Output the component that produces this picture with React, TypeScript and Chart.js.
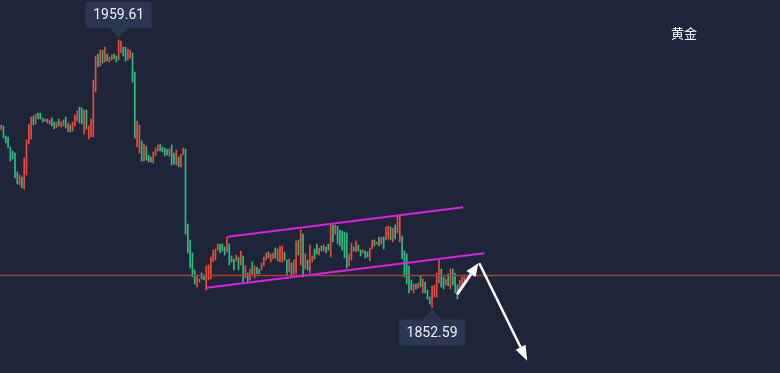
import React, { useEffect, useRef } from 'react';
import { Chart, registerables } from 'chart.js';

Chart.register(...registerables);

const BG = '#1e2538';
const UP = '#2dbd84';
const DOWN = '#f04a3c';

// candle highs / lows (price), and direction (1 = rising/green, -1 = falling/red)
const highs = [
  1925.6, 1925.2, 1921.2, 1920.8, 1916.8, 1915.2, 1914.4, 1906.8, 1905.6, 1904.8,
  1912.4, 1919.6, 1926.0, 1928.8, 1929.2, 1930.0, 1930.4, 1930.4, 1928.4, 1928.0,
  1928.0, 1927.6, 1928.4, 1926.8, 1926.8, 1928.0, 1926.8, 1927.6, 1928.8, 1926.4,
  1925.6, 1926.8, 1929.6, 1931.2, 1932.8, 1932.4, 1931.6, 1931.6, 1925.2, 1928.0,
  1943.6,
  1953.2, 1954.0, 1955.6, 1955.6, 1956.8, 1954.0, 1952.8, 1953.6, 1954.0, 1953.2,
  1959.61, 1959.2, 1956.8, 1956.8, 1956.0, 1955.6, 1954.4, 1946.8, 1927.2, 1925.6,
  1919.2, 1918.0, 1917.2, 1913.6, 1912.8, 1914.8, 1916.4, 1917.6, 1918.0, 1916.8,
  1916.4, 1916.0, 1916.0, 1917.6, 1914.4, 1915.6, 1912.8, 1914.0, 1916.4, 1916.0,
  1886.0,
  1879.6, 1874.4, 1867.6, 1865.6, 1864.0, 1866.4, 1865.6, 1869.2, 1869.6, 1872.8,
  1875.6, 1876.0, 1878.0, 1878.0, 1878.0, 1876.8, 1880.8, 1878.0, 1873.2, 1872.0,
  1873.6, 1872.8, 1875.2, 1873.2, 1869.2, 1866.4, 1868.0, 1870.8, 1869.2, 1868.8,
  1868.0, 1870.4, 1872.8, 1874.4, 1874.8, 1874.0, 1874.4, 1876.4, 1876.0, 1877.2,
  1877.2, 1874.8, 1871.6, 1872.0, 1870.4, 1871.6, 1879.2, 1879.6, 1883.6, 1882.0,
  1874.0, 1871.6, 1877.6, 1873.2, 1876.0, 1878.0, 1876.4, 1877.2, 1877.6, 1876.8,
  1878.0, 1885.6, 1885.6, 1885.6, 1885.2,
  1883.6, 1883.2, 1882.8, 1882.4, 1874.0, 1878.4, 1876.8, 1879.2, 1877.6, 1875.6,
  1875.6, 1875.2, 1874.8, 1876.4, 1879.6, 1879.6, 1878.8, 1880.8,
  1880.8, 1880.8, 1884.8, 1885.2, 1884.8, 1884.4, 1885.6, 1889.2, 1889.2, 1881.2,
  1875.2, 1874.0, 1869.2, 1863.6, 1862.0, 1862.0, 1862.4, 1865.2, 1864.0, 1862.8,
  1859.6, 1856.8, 1861.2, 1861.6, 1866.4, 1872.0, 1868.0, 1864.8, 1864.0, 1866.0,
  1868.0, 1868.0, 1866.4, 1861.6, 1863.6, 1864.8, 1865.6,
];

const lows = [
  1923.6, 1920.4, 1918.4, 1916.4, 1911.2, 1912.0, 1904.4, 1902.0, 1901.6, 1900.4,
  1900.0, 1905.6, 1918.0, 1920.0, 1925.6, 1926.0, 1928.0, 1928.0, 1926.8, 1927.2,
  1926.4, 1926.0, 1925.2, 1924.0, 1924.4, 1925.2, 1924.8, 1925.2, 1924.4, 1922.8,
  1922.8, 1923.2, 1925.2, 1927.2, 1926.4, 1926.0, 1922.0, 1924.0, 1920.0, 1920.8,
  1920.8,
  1938.8, 1948.8, 1949.2, 1950.4, 1950.8, 1951.2, 1950.8, 1951.6, 1952.0, 1950.8,
  1951.6, 1954.4, 1953.2, 1951.2, 1951.6, 1952.4, 1942.8, 1920.4, 1916.8, 1914.4,
  1911.2, 1911.2, 1911.6, 1910.8, 1910.8, 1910.4, 1913.2, 1915.2, 1915.2, 1914.8,
  1913.2, 1913.6, 1913.2, 1909.6, 1910.0, 1909.6, 1908.8, 1908.8, 1913.6, 1882.0,
  1874.4,
  1868.4, 1864.8, 1862.0, 1860.8, 1862.8, 1864.0, 1863.6, 1859.6, 1863.6, 1864.0,
  1870.8, 1871.6, 1875.6, 1874.4, 1875.2, 1873.6, 1874.8, 1869.6, 1870.8, 1867.6,
  1871.2, 1867.6, 1869.6, 1862.4, 1864.4, 1862.8, 1863.6, 1866.0, 1864.4, 1866.0,
  1866.0, 1867.6, 1869.2, 1871.6, 1872.4, 1870.8, 1872.0, 1872.4, 1871.2, 1870.8,
  1870.8, 1871.6, 1865.6, 1866.8, 1865.2, 1866.0, 1866.0, 1873.6, 1869.6, 1864.8,
  1868.0, 1867.6, 1866.4, 1870.8, 1872.0, 1874.0, 1873.6, 1875.2, 1875.2, 1874.4,
  1875.6, 1872.8, 1878.8, 1882.0, 1878.0,
  1877.2, 1875.6, 1872.4, 1868.4, 1869.2, 1871.6, 1875.2, 1874.8, 1875.2, 1873.2,
  1874.4, 1872.4, 1872.8, 1871.2, 1876.0, 1877.2, 1878.0, 1877.2,
  1878.0, 1876.0, 1879.6, 1880.0, 1879.6, 1878.8, 1880.0, 1882.4, 1878.8, 1872.0,
  1864.8, 1862.0, 1858.4, 1859.6, 1858.4, 1860.0, 1860.4, 1860.8, 1858.4, 1858.4,
  1856.0, 1854.0, 1852.59, 1856.8, 1856.8, 1862.4, 1860.8, 1860.0, 1861.6, 1861.2,
  1860.0, 1861.6, 1858.4, 1856.0, 1859.6, 1860.4, 1861.6,
];

const moves = [
  -1, 1, 1, 1, 1, 1, 1, 1, -1, 1,
  -1, -1, -1, -1, 1, -1, 1, 1, 1, 1,
  -1, -1, 1, 1, -1, 1, -1, -1, 1, -1,
  1, -1, -1, -1, 1, 1, -1, 1, -1, -1,
  -1,
  -1, 1, -1, 1, -1, 1, -1, -1, 1, 1,
  -1, -1, 1, 1, -1, -1, 1, 1, -1, -1,
  1, -1, 1, 1, 1, -1, -1, -1, 1, 1,
  1, 1, -1, 1, 1, -1, 1, -1, -1, 1,
  1,
  1, 1, 1, -1, -1, 1, 1, -1, -1, -1,
  -1, -1, -1, 1, 1, 1, -1, 1, 1, 1,
  -1, 1, -1, 1, -1, 1, -1, 1, -1, 1,
  1, -1, -1, -1, 1, -1, -1, 1, -1, -1,
  -1, 1, 1, -1, 1, -1, -1, 1, -1, 1,
  -1, 1, -1, -1, 1, 1, -1, 1, -1, 1,
  1, -1, 1, -1, 1,
  1, 1, 1, 1, -1, -1, 1, -1, 1, 1,
  -1, 1, 1, -1, -1, 1, -1, 1,
  -1, 1, -1, -1, 1, -1, 1, -1, -1, 1,
  1, 1, 1, 1, -1, 1, -1, 1, -1, 1,
  1, 1, -1, -1, -1, -1, 1, 1, -1, 1,
  -1, 1, 1, 1, -1, -1, -1,
];

// annotations (candle index, price)
const channelUpper = [{ x: 98.3, y: 1880.9 }, { x: 200.5, y: 1892.7 }];
const channelLower = [{ x: 89.2, y: 1860.5 }, { x: 209.7, y: 1874.3 }];
const referenceLevel = 1865.4;
const arrowUp = [{ x: 197.9, y: 1857.9 }, { x: 207.1, y: 1870.3 }];
const arrowDown = [{ x: 207.5, y: 1870.3 }, { x: 228.3, y: 1831.3 }];
const seriesName = '黄金';

const X_MIN = -0.5;
const X_MAX = 338;
const Y_MIN = 1826.4;
const Y_MAX = 1975.6;

function drawArrow(ctx: CanvasRenderingContext2D, x1: number, y1: number, x2: number, y2: number, w: number, headLen: number, headW: number) {
  const ang = Math.atan2(y2 - y1, x2 - x1);
  const bx = x2 - Math.cos(ang) * headLen;
  const by = y2 - Math.sin(ang) * headLen;
  ctx.save();
  ctx.strokeStyle = '#ffffff';
  ctx.fillStyle = '#ffffff';
  ctx.lineWidth = w;
  ctx.lineCap = 'butt';
  ctx.beginPath();
  ctx.moveTo(x1, y1);
  ctx.lineTo(bx, by);
  ctx.stroke();
  const px = -Math.sin(ang) * headW / 2;
  const py = Math.cos(ang) * headW / 2;
  ctx.beginPath();
  ctx.moveTo(x2, y2);
  ctx.lineTo(bx + px, by + py);
  ctx.lineTo(bx - px, by - py);
  ctx.closePath();
  ctx.fill();
  ctx.restore();
}

function drawCallout(ctx: CanvasRenderingContext2D, cx: number, apexY: number, text: string, pointDown: boolean) {
  const bw = 66;
  const bh = 26;
  const th = 10;
  const tw = 18;
  const boxTop = pointDown ? apexY - th - bh : apexY + th;
  ctx.save();
  ctx.fillStyle = '#2b3650';
  ctx.beginPath();
  if (ctx.roundRect) ctx.roundRect(cx - bw / 2, boxTop, bw, bh, 2);
  else ctx.rect(cx - bw / 2, boxTop, bw, bh);
  ctx.fill();
  ctx.beginPath();
  if (pointDown) {
    ctx.moveTo(cx - tw / 2, boxTop + bh);
    ctx.lineTo(cx + tw / 2, boxTop + bh);
  } else {
    ctx.moveTo(cx - tw / 2, boxTop);
    ctx.lineTo(cx + tw / 2, boxTop);
  }
  ctx.lineTo(cx, apexY);
  ctx.closePath();
  ctx.fill();
  ctx.fillStyle = '#eef0f5';
  ctx.font = "14px Roboto, 'Liberation Sans', sans-serif";
  ctx.textAlign = 'center';
  ctx.textBaseline = 'middle';
  ctx.fillText(text, cx, boxTop + bh / 2 + 0.5);
  ctx.restore();
}

const bgPlugin = {
  id: 'bgFill',
  beforeDraw(chart: any) {
    const { ctx, width, height } = chart;
    ctx.save();
    ctx.fillStyle = BG;
    ctx.fillRect(0, 0, width, height);
    ctx.restore();
  },
};

const overlayPlugin = {
  id: 'overlay',
  afterDatasetsDraw(chart: any) {
    const { ctx } = chart;
    const xs = chart.scales.x;
    const ys = chart.scales.y;
    const px = (p: { x: number; y: number }) => [xs.getPixelForValue(p.x), ys.getPixelForValue(p.y)];

    const [a1x, a1y] = px(arrowUp[0]);
    const [a2x, a2y] = px(arrowUp[1]);
    drawArrow(ctx, a1x, a1y, a2x, a2y, 3, 13, 11);
    const [b1x, b1y] = px(arrowDown[0]);
    const [b2x, b2y] = px(arrowDown[1]);
    drawArrow(ctx, b1x, b1y, b2x, b2y, 2.5, 15, 11);

    let hi = 0;
    let lo = 0;
    highs.forEach((h, i) => { if (h > highs[hi]) hi = i; });
    lows.forEach((l, i) => { if (l < lows[lo]) lo = i; });
    drawCallout(ctx, xs.getPixelForValue(hi), ys.getPixelForValue(highs[hi]) - 2, highs[hi].toFixed(2), true);
    drawCallout(ctx, xs.getPixelForValue(lo), ys.getPixelForValue(lows[lo]) + 2, lows[lo].toFixed(2), false);

    ctx.save();
    ctx.fillStyle = '#ffffff';
    ctx.font = "13px 'Noto Sans CJK SC', sans-serif";
    ctx.textAlign = 'center';
    ctx.textBaseline = 'middle';
    ctx.fillText(seriesName, 684, 33);
    ctx.restore();
  },
};

export default function App() {
  const ref = useRef<HTMLCanvasElement>(null);
  useEffect(() => {
    document.body.style.margin = '0';
    document.body.style.background = BG;
    const candles = highs.map((h, i) => ({ x: i, y: [lows[i], h] }));
    const chart = new Chart(ref.current as HTMLCanvasElement, {
      type: 'bar',
      data: {
        datasets: [
          {
            type: 'line',
            data: channelUpper,
            borderColor: '#dc1ee6',
            borderWidth: 2,
            pointRadius: 0,
            fill: false,
            order: 0,
          } as any,
          {
            type: 'line',
            data: channelLower,
            borderColor: '#dc1ee6',
            borderWidth: 2,
            pointRadius: 0,
            fill: false,
            order: 0,
          } as any,
          {
            type: 'line',
            data: [{ x: X_MIN, y: referenceLevel }, { x: X_MAX, y: referenceLevel }],
            borderColor: '#a8403a',
            borderWidth: 1.3,
            pointRadius: 0,
            fill: false,
            order: 0,
          } as any,
          {
            type: 'bar',
            data: candles,
            backgroundColor: moves.map((m) => (m > 0 ? UP : DOWN)),
            borderWidth: 0,
            barThickness: 1,
            grouped: false,
            order: 1,
          } as any,
        ],
      },
      options: {
        responsive: false,
        devicePixelRatio: 1,
        animation: false,
        events: [],
        layout: { padding: 0 },
        plugins: { legend: { display: false }, tooltip: { enabled: false } },
        scales: {
          x: { type: 'linear', min: X_MIN, max: X_MAX, display: false, offset: false },
          y: { type: 'linear', min: Y_MIN, max: Y_MAX, display: false },
        },
      } as any,
      plugins: [bgPlugin, overlayPlugin],
    });
    return () => chart.destroy();
  }, []);
  return (
    <div style={{ width: 780, height: 373 }}>
      <canvas ref={ref} width={780} height={373} style={{ display: 'block' }} />
    </div>
  );
}
